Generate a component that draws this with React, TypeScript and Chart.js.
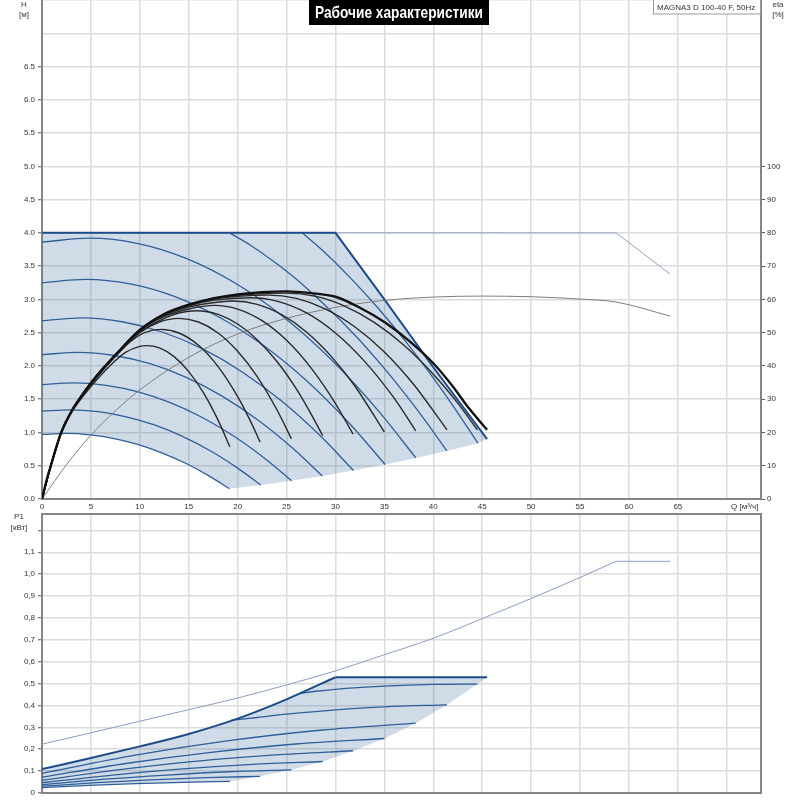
import React, { useEffect, useRef } from "react";
import { Chart, registerables } from "chart.js";

Chart.register(...registerables);

const FONT = '"Liberation Sans", Arial, Helvetica, sans-serif';
const NARROW = '"Liberation Sans Narrow", "Liberation Sans", Arial, sans-serif';

// ---------- texts ----------
const titleText = "Рабочие характеристики";
const modelText = "MAGNA3 D 100-40 F, 50Hz";
const qAxisText = "Q [м³/ч]";
const hAxisText = ["H", "[м]"];
const etaAxisText = ["eta", "[%]"];
const p1AxisText = ["P1", "[кВт]"];

// ---------- top chart: H (m) vs Q (m³/h) ----------
const hFillQ = [0, 30, 35, 40, 45.5, 44.56, 41.39, 38.22, 35.07, 31.84, 28.65, 25.5, 22.35, 19.16, 17.24, 14.78, 12.31, 9.85, 7.39, 4.93, 2.46, 0];
const hFillH = [4.0, 4.0, 3.0, 1.98, 0.9, 0.838, 0.723, 0.617, 0.519, 0.428, 0.346, 0.274, 0.211, 0.155, 0.333, 0.53, 0.691, 0.818, 0.909, 0.964, 0.985, 0.97];

const hMaxQ = [0, 30, 35, 40, 45.5];
const hMaxH = [4.0, 4.0, 3.0, 1.98, 0.9];
const hLimitQ = [0, 58.7, 64.2];
const hLimitH = [4.0, 4.0, 3.38];

const h1Q = [0, 2.46, 4.93, 7.39, 9.85, 12.31, 14.78, 17.24, 19.16];
const h1H = [0.97, 0.985, 0.964, 0.909, 0.818, 0.691, 0.53, 0.333, 0.155];
const h2Q = [0, 2.87, 5.75, 8.62, 11.49, 14.36, 17.24, 20.11, 22.35];
const h2H = [1.32, 1.34, 1.312, 1.236, 1.113, 0.941, 0.721, 0.453, 0.211];
const h3Q = [0, 3.28, 6.56, 9.83, 13.11, 16.39, 19.67, 22.94, 25.5];
const h3H = [1.719, 1.745, 1.709, 1.61, 1.449, 1.225, 0.939, 0.59, 0.275];
const h4Q = [0, 3.68, 7.37, 11.05, 14.73, 18.41, 22.1, 25.78, 28.65];
const h4H = [2.17, 2.203, 2.157, 2.033, 1.829, 1.547, 1.185, 0.745, 0.347];
const h5Q = [0, 4.09, 8.19, 12.28, 16.37, 20.46, 24.56, 28.65, 31.84];
const h5H = [2.68, 2.721, 2.664, 2.51, 2.259, 1.91, 1.464, 0.92, 0.428];
const h6Q = [0, 4.51, 9.02, 13.52, 18.03, 22.54, 27.05, 31.55, 35.07];
const h6H = [3.251, 3.301, 3.232, 3.045, 2.74, 2.317, 1.776, 1.116, 0.519];
const h7Q = [0, 4.91, 9.83, 14.74, 19.65, 24.56, 29.48, 34.39, 38.22];
const h7H = [3.861, 3.92, 3.839, 3.617, 3.254, 2.752, 2.109, 1.325, 0.617];
const h8Q = [19.2, 21.28, 23.94, 26.6, 31.92, 34.58, 37.24, 39.37, 41.39];
const h8H = [4.0, 3.817, 3.542, 3.227, 2.473, 2.034, 1.554, 1.141, 0.723];
const h9Q = [26.6, 28.64, 31.5, 34.37, 37.23, 40.09, 42.38, 44.56];
const h9H = [4.0, 3.741, 3.328, 2.867, 2.358, 1.802, 1.322, 0.838];

// ---------- top chart: eta (%) vs Q ----------
const e1Q = [0, 1, 2, 3, 5, 7, 8.5, 10, 10.7, 12, 13.5, 15, 16.5, 18, 19.2];
const e1 = [0, 10.8, 20, 25.9, 33.8, 40.2, 44.0, 45.9, 46.1, 45.4, 42.8, 38.3, 32.0, 23.7, 15.7];
const e2Q = [0, 1, 2, 3, 5, 7.5, 9, 10.5, 12.2, 14, 16, 18, 20, 21.3, 22.3];
const e2 = [0, 10.9, 20.2, 26.1, 34.3, 42.8, 47.2, 50.0, 51.0, 49.9, 46.2, 39.8, 30.8, 23.5, 17.1];
const e3Q = [0, 1, 2, 3, 5, 7.5, 10, 12, 14, 16, 18, 20, 22, 24, 25.5];
const e3 = [0, 11, 20.3, 26.2, 34.6, 43.1, 50.0, 53.2, 54.3, 53.2, 49.9, 44.4, 36.8, 26.9, 18.1];
const e4Q = [0, 1, 2, 3, 5, 7.5, 10, 12.5, 14, 15.8, 18, 20, 22, 24, 26, 27.5, 28.7];
const e4 = [0, 11, 20.3, 26.3, 34.7, 43.2, 50.3, 54.3, 55.9, 56.6, 55.5, 52.6, 47.9, 41.4, 33.1, 25.6, 19.0];
const e5Q = [0, 1, 2, 3, 5, 7.5, 10, 12.5, 15, 17.6, 20, 22.5, 25, 27.5, 30, 31.8];
const e5 = [0, 11, 20.3, 26.3, 34.8, 43.3, 50.6, 54.8, 57.1, 58.2, 57.1, 53.6, 47.7, 39.4, 28.7, 19.5];
const e6Q = [0, 1, 2, 3, 5, 7.5, 10, 12.5, 15, 17.5, 19.5, 22, 24.5, 27, 29.5, 32, 35];
const e6 = [0, 11, 20.3, 26.3, 34.8, 43.3, 50.7, 55.2, 57.7, 59.0, 59.5, 58.5, 55.4, 50.3, 43.1, 33.9, 20.1];
const e7Q = [0, 1, 2, 3, 5, 7.5, 10, 12.5, 15, 17.5, 21.3, 24, 27, 30, 33, 36, 38.2];
const e7 = [0, 11, 20.3, 26.3, 34.9, 43.3, 50.8, 55.4, 58.1, 59.7, 60.5, 59.5, 56.0, 49.9, 41.3, 30.3, 20.5];
const e8Q = [0, 1, 2, 3, 5, 7.5, 10, 12.5, 15, 17.5, 20, 23.1, 26, 29, 32, 35, 38, 41.4];
const e8 = [0, 11, 20.3, 26.3, 34.9, 43.3, 50.8, 55.5, 58.3, 60.1, 60.9, 61.3, 60.3, 57.1, 51.7, 44.2, 34.4, 20.8];
const e9Q = [0, 1, 2, 3, 5, 7.5, 10, 12.5, 15, 17.5, 20, 22.5, 24.9, 28, 31, 34, 37, 40, 42.5, 44.5];
const e9 = [0, 11, 20.3, 26.3, 34.9, 43.3, 50.8, 55.6, 58.4, 60.3, 61.2, 61.7, 61.9, 60.9, 57.9, 53.0, 46.2, 37.5, 28.8, 20.8];
const eMaxQ = [0, 0.5, 1, 1.5, 2, 3, 4, 5, 6, 7.5, 10, 12.5, 15, 17.5, 20, 22.5, 25, 27.5, 30, 32.5, 35, 37.5, 40, 42, 43.5, 45.5];
const eMax = [0, 6, 11, 16, 20.3, 26.3, 30.8, 34.9, 38.5, 43.3, 50.8, 55.6, 58.4, 60.3, 61.5, 62.2, 62.4, 61.9, 60.8, 57.5, 53.2, 47.6, 40.8, 33.8, 27.8, 20.8];
const eSysQ = [0, 2.5, 5, 7.5, 10, 15, 20, 25, 30, 35, 40, 45, 50, 55, 58.7, 64.2];
const eSys = [0, 10.3, 19.2, 26.5, 32.8, 42.6, 49.6, 54.3, 57.6, 59.7, 60.7, 61.0, 60.8, 60.1, 59.2, 55.0];

// ---------- bottom chart: P1 (kW) vs Q ----------
const pFillQ = [0, 5, 10, 15, 20, 25, 30, 45.5, 44.5, 41.4, 38.2, 35, 31.8, 28.7, 25.5, 22.3, 19.2, 14.4, 9.6, 4.8, 0];
const pFill = [0.109, 0.16, 0.213, 0.27, 0.34, 0.428, 0.529, 0.529, 0.498, 0.403, 0.319, 0.249, 0.193, 0.144, 0.106, 0.076, 0.053, 0.049, 0.043, 0.035, 0.025];
const pMaxQ = [0, 5, 10, 15, 20, 25, 30];
const pMax = [0.109, 0.16, 0.213, 0.27, 0.34, 0.428, 0.529];
const pFlatQ = [30, 45.5];
const pFlat = [0.529, 0.529];
const pThinQ = [0, 5, 10, 15, 20, 25, 30, 35, 40, 45, 50, 55, 58.7];
const pThin = [0.223, 0.275, 0.328, 0.381, 0.434, 0.494, 0.558, 0.632, 0.707, 0.797, 0.889, 0.985, 1.059];
const pThinFlatQ = [58.7, 64.2];
const pThinFlat = [1.059, 1.059];
const p1Q = [0, 4.8, 9.6, 14.4, 19.2];
const p1 = [0.025, 0.035, 0.043, 0.049, 0.053];
const p2Q = [0, 5.575, 11.15, 16.725, 22.3];
const p2 = [0.031, 0.047, 0.06, 0.07, 0.076];
const p3Q = [0, 6.375, 12.75, 19.125, 25.5];
const p3 = [0.038, 0.063, 0.082, 0.097, 0.106];
const p4Q = [0, 7.175, 14.35, 21.525, 28.7];
const p4 = [0.047, 0.082, 0.11, 0.131, 0.144];
const p5Q = [0, 7.95, 15.9, 23.85, 31.8];
const p5 = [0.058, 0.107, 0.146, 0.174, 0.193];
const p6Q = [0, 8.75, 17.5, 26.25, 35];
const p6 = [0.072, 0.136, 0.187, 0.225, 0.249];
const p7Q = [0, 9.55, 19.1, 28.65, 38.2];
const p7 = [0.09, 0.173, 0.239, 0.288, 0.319];
const p8Q = [19.3, 22, 25, 30, 35, 41.4];
const p8 = [0.332, 0.345, 0.36, 0.38, 0.394, 0.403];
const p9Q = [26.4, 28, 30, 35, 40, 44.5];
const p9 = [0.455, 0.465, 0.474, 0.488, 0.496, 0.498];

// ---------- axis ranges ----------
const Q_MAX = 73.5;
const H_MAX = 7.5;
const ETA_MAX = 150;
const P_MAX = 1.275;

const pts = (xs: number[], ys: number[]) => xs.map((x, i) => ({ x, y: ys[i] }));

const line = (xs: number[], ys: number[], color: string, width: number, extra: any = {}) => ({
  data: pts(xs, ys),
  borderColor: color,
  borderWidth: width,
  pointRadius: 0,
  fill: false,
  cubicInterpolationMode: "monotone",
  ...extra,
});

const straight = { cubicInterpolationMode: "default", tension: 0 };

const GRID = "#dcdcdc";
const AXIS = "#858585";
const TICK = "#555";

const zeroPad = (s: any) => {
  s.paddingTop = 0;
  s.paddingBottom = 0;
  s.paddingLeft = 0;
  s.paddingRight = 0;
};

const topTextPlugin = {
  id: "topText",
  afterDraw(chart: any) {
    const ctx = chart.ctx;
    ctx.save();
    // title box
    ctx.fillStyle = "#000";
    ctx.fillRect(309, 0, 180, 25);
    ctx.font = `bold 17px ${NARROW}`;
    const w = ctx.measureText(titleText).width;
    const sx = Math.min(1, 168 / w);
    ctx.save();
    ctx.translate(399, 13);
    ctx.scale(sx, 1);
    ctx.fillStyle = "#fff";
    ctx.textAlign = "center";
    ctx.textBaseline = "middle";
    ctx.fillText(titleText, 0, 0);
    ctx.restore();
    // model box
    ctx.fillStyle = "#fff";
    ctx.fillRect(653, 0, 107, 14);
    ctx.strokeStyle = "#9a9a9a";
    ctx.lineWidth = 1;
    ctx.strokeRect(653.5, -1, 107, 15);
    ctx.fillStyle = "#333";
    ctx.font = `8px ${FONT}`;
    ctx.textAlign = "left";
    ctx.textBaseline = "middle";
    ctx.fillText(modelText, 657, 7.5);
    // axis names
    ctx.textAlign = "center";
    ctx.fillText(hAxisText[0], 24, 4.5);
    ctx.fillText(hAxisText[1], 24, 14.5);
    ctx.fillText(etaAxisText[0], 778, 4.5);
    ctx.fillText(etaAxisText[1], 778, 14.5);
    ctx.textAlign = "left";
    ctx.fillText(qAxisText, 731, 507);
    ctx.restore();
  },
};

const bottomTextPlugin = {
  id: "bottomText",
  afterDraw(chart: any) {
    const ctx = chart.ctx;
    ctx.save();
    ctx.fillStyle = "#333";
    ctx.font = `8px ${FONT}`;
    ctx.textAlign = "center";
    ctx.textBaseline = "middle";
    ctx.fillText(p1AxisText[0], 19, 12);
    ctx.fillText(p1AxisText[1], 19, 23);
    ctx.restore();
  },
};

const baseOptions: any = {
  animation: false,
  responsive: false,
  maintainAspectRatio: false,
  events: [],
  layout: { padding: 0 },
  plugins: { legend: { display: false }, tooltip: { enabled: false }, title: { display: false } },
  elements: { point: { radius: 0 } },
};

export default function App() {
  const topRef = useRef<HTMLCanvasElement>(null);
  const botRef = useRef<HTMLCanvasElement>(null);

  useEffect(() => {
    Chart.defaults.font.family = FONT;
    Chart.defaults.font.size = 8;
    Chart.defaults.color = "#333";

    const blue = "#2f5f99";
    const blueCurves = [
      [h1Q, h1H], [h2Q, h2H], [h3Q, h3H], [h4Q, h4H], [h5Q, h5H],
      [h6Q, h6H], [h7Q, h7H], [h8Q, h8H], [h9Q, h9H],
    ];
    const blackCurves = [
      [e1Q, e1], [e2Q, e2], [e3Q, e3], [e4Q, e4], [e5Q, e5],
      [e6Q, e6], [e7Q, e7], [e8Q, e8], [e9Q, e9],
    ];

    const top = new Chart(topRef.current as HTMLCanvasElement, {
      type: "line",
      data: {
        datasets: [
          {
            data: pts(hFillQ, hFillH),
            fill: "shape",
            backgroundColor: "rgba(60,105,160,0.24)",
            borderWidth: 0,
            pointRadius: 0,
            tension: 0,
            order: 20,
          },
          ...blueCurves.map(([q, h]) => line(q, h, blue, 1.3, { order: 10 })),
          line(hLimitQ, hLimitH, "#8fa2c3", 1, { order: 9, ...straight }),
          line(hMaxQ, hMaxH, "#1c4d8a", 2, { order: 8, ...straight }),
          line(eSysQ, eSys, "#7d7d7d", 1, { order: 7, yAxisID: "eta" }),
          ...blackCurves.map(([q, e]) => line(q, e, "#2a2a2a", 1.4, { order: 5, yAxisID: "eta" })),
          line(eMaxQ, eMax, "#111", 2.4, { order: 4, yAxisID: "eta" }),
        ] as any,
      },
      options: {
        ...baseOptions,
        scales: {
          x: {
            type: "linear",
            position: "bottom",
            min: 0,
            max: Q_MAX,
            ticks: {
              stepSize: 5,
              includeBounds: false,
              autoSkip: false,
              maxRotation: 0,
              padding: 3,
              callback: (v: any) => (v % 5 === 0 && v < 70 ? String(v) : ""),
            },
            grid: { color: GRID, lineWidth: 1.5, drawTicks: false },
            border: { color: AXIS, width: 2 },
            afterFit: (s: any) => {
              s.height = 15;
              zeroPad(s);
            },
          },
          y: {
            type: "linear",
            position: "left",
            min: 0,
            max: H_MAX,
            ticks: {
              stepSize: 0.5,
              padding: 3,
              autoSkip: false,
              callback: (v: any) => (v <= 6.5 + 1e-9 ? Number(v).toFixed(1) : ""),
            },
            grid: {
              color: GRID,
              lineWidth: 1.5,
              tickLength: 4,
              tickWidth: 1,
              tickColor: (c: any) => (c.tick && c.tick.value > 6.5 + 1e-9 ? "rgba(0,0,0,0)" : TICK),
            },
            border: { color: AXIS, width: 2 },
            afterFit: (s: any) => {
              s.width = 42;
              zeroPad(s);
            },
          },
          eta: {
            type: "linear",
            position: "right",
            min: 0,
            max: ETA_MAX,
            ticks: {
              stepSize: 10,
              padding: 2,
              autoSkip: false,
              callback: (v: any) => (v <= 100 ? String(v) : ""),
            },
            grid: {
              drawOnChartArea: false,
              tickLength: 4,
              tickWidth: 1,
              tickColor: (c: any) => (c.tick && c.tick.value > 100 ? "rgba(0,0,0,0)" : TICK),
            },
            border: { color: AXIS, width: 2 },
            afterFit: (s: any) => {
              s.width = 39;
              zeroPad(s);
            },
          },
        },
      },
      plugins: [topTextPlugin],
    } as any);

    const pCurves = [
      [p1Q, p1], [p2Q, p2], [p3Q, p3], [p4Q, p4], [p5Q, p5],
      [p6Q, p6], [p7Q, p7], [p8Q, p8], [p9Q, p9],
    ];

    const bottom = new Chart(botRef.current as HTMLCanvasElement, {
      type: "line",
      data: {
        datasets: [
          {
            data: pts(pFillQ, pFill),
            fill: "shape",
            backgroundColor: "rgba(60,105,160,0.24)",
            borderWidth: 0,
            pointRadius: 0,
            tension: 0,
            order: 20,
          },
          ...pCurves.map(([q, p]) => line(q, p, blue, 1.3, { order: 10 })),
          line(pThinQ, pThin, "#8a9cc0", 1, { order: 9 }),
          line(pThinFlatQ, pThinFlat, "#8a9cc0", 1, { order: 9, ...straight }),
          line(pMaxQ, pMax, "#1c4d8a", 2, { order: 8 }),
          line(pFlatQ, pFlat, "#1c4d8a", 2, { order: 8, ...straight }),
        ] as any,
      },
      options: {
        ...baseOptions,
        scales: {
          x: {
            type: "linear",
            position: "top",
            min: 0,
            max: Q_MAX,
            ticks: { stepSize: 5, includeBounds: false, display: false },
            grid: { color: GRID, lineWidth: 1.5, drawTicks: false },
            border: { color: AXIS, width: 2 },
            afterFit: (s: any) => {
              s.height = 9;
              zeroPad(s);
            },
          },
          xb: {
            type: "linear",
            position: "bottom",
            min: 0,
            max: Q_MAX,
            ticks: { display: false },
            grid: { display: false, drawTicks: false },
            border: { color: AXIS, width: 2 },
            afterFit: (s: any) => {
              s.height = 7;
              zeroPad(s);
            },
          },
          y: {
            type: "linear",
            position: "left",
            min: 0,
            max: P_MAX,
            ticks: {
              stepSize: 0.1,
              includeBounds: false,
              padding: 3,
              autoSkip: false,
              callback: (v: any) => (v > 1.15 ? "" : v === 0 ? "0" : Number(v).toFixed(1).replace(".", ",")),
            },
            grid: { color: GRID, lineWidth: 1.5, tickLength: 4, tickWidth: 1, tickColor: TICK },
            border: { color: AXIS, width: 2 },
            afterFit: (s: any) => {
              s.width = 42;
              zeroPad(s);
            },
          },
          yr: {
            type: "linear",
            position: "right",
            min: 0,
            max: 1,
            display: true,
            ticks: { display: false },
            grid: { display: false, drawTicks: false },
            border: { color: AXIS, width: 2 },
            afterFit: (s: any) => {
              s.width = 39;
              zeroPad(s);
            },
          },
        },
      },
      plugins: [bottomTextPlugin],
    } as any);

    return () => {
      top.destroy();
      bottom.destroy();
    };
  }, []);

  return (
    <div style={{ position: "fixed", left: 0, top: 0, width: 800, height: 800, background: "#fff" }}>
      <canvas ref={topRef} width={800} height={514} style={{ position: "absolute", left: 0, top: 0, width: 800, height: 514 }} />
      <canvas ref={botRef} width={800} height={295} style={{ position: "absolute", left: 0, top: 505, width: 800, height: 295 }} />
    </div>
  );
}
